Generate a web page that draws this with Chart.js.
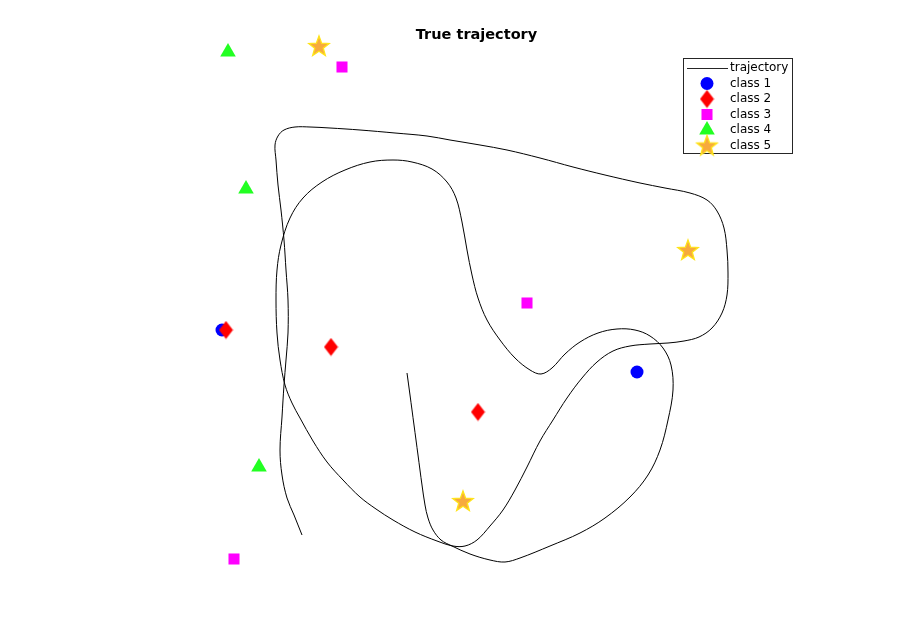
<!DOCTYPE html>
<html>
<head>
<meta charset="utf-8">
<script src="https://cdn.jsdelivr.net/npm/chart.js@4/dist/chart.umd.min.js"></script>
<style>
  body { margin: 0; background: #fff; }
  #wrap { width: 921px; height: 631px; }
</style>
</head>
<body>
<div id="wrap"><canvas id="trajChart" width="921" height="631"></canvas></div>
<script>
// trajectory (plot units, y grows downward)
const trajX = [407, 410, 414, 418, 422, 425, 428, 433, 441, 452,
  470, 490, 505, 520, 550, 580, 605, 630, 648, 660, 668, 673, 671, 663, 650, 635, 617, 598, 580, 565, 552, 541,
  530, 515, 500, 487, 478, 472, 467, 462, 456, 447, 432, 412, 393, 370, 345, 322, 303, 290, 281, 277, 276, 277,
  280, 285, 292, 300, 313, 327, 343, 360, 376, 393, 415, 437, 453,
  465, 477, 490, 503, 515, 527, 540, 553, 567, 582, 597, 613, 630, 650, 668, 684, 699, 712, 722, 727, 728, 727, 724,
  717, 707, 690, 665, 640, 605, 573, 540, 507, 480, 450, 427, 395, 360, 330, 310, 295, 284, 278, 275, 276, 278,
  281, 284, 286, 288, 288, 286, 284, 282, 280, 282, 287, 294, 302];
const trajY = [373, 395, 425, 455, 485, 505, 518, 530, 540, 546,
  554, 560, 562, 558, 546, 533, 518, 497, 475, 450, 420, 390, 365, 348, 336, 330, 329, 333, 342, 354, 368, 374,
  370, 358, 340, 320, 298, 275, 250, 222, 198, 182, 169, 162, 160, 162, 170, 182, 198, 218, 245, 270, 300, 333,
  360, 385, 403, 418, 441, 462, 480, 497, 509, 520, 532, 541, 546,
  546, 540, 526, 510, 490, 467, 441, 420, 398, 378, 362, 351, 346, 344, 343, 341, 337, 328, 313, 295, 273, 250, 228,
  211, 200, 193, 188, 183, 175, 167, 158, 150, 145, 140, 136, 133, 130, 128, 127, 127, 130, 136, 145, 160, 185,
  210, 240, 270, 300, 333, 360, 385, 417, 450, 475, 498, 515, 535];

const class1X = [222, 637];
const class1Y = [330, 372];
const class2X = [226, 331, 478];
const class2Y = [330, 347, 412];
const class3X = [342, 527, 234];
const class3Y = [67, 303, 559];
const class4X = [228, 246, 259];
const class4Y = [52, 189, 467];
const class5X = [319, 688, 463];
const class5Y = [46, 250, 501];

const classLabels = ['class 1', 'class 2', 'class 3', 'class 4', 'class 5'];

function toPoints(xs, ys) {
  return xs.map((x, i) => ({ x: x, y: ys[i] }));
}

// diamond marker (taller than wide, like matlab's)
function makeDiamond() {
  const c = document.createElement('canvas');
  c.width = 15; c.height = 19;
  const g = c.getContext('2d');
  g.fillStyle = '#ff0000';
  g.beginPath();
  g.moveTo(7.5, 0.5); g.lineTo(14.5, 9.5); g.lineTo(7.5, 18.5); g.lineTo(0.5, 9.5);
  g.closePath();
  g.fill();
  return c;
}

// five point star with yellow edge
function makeStar() {
  const c = document.createElement('canvas');
  c.width = 24; c.height = 24;
  const g = c.getContext('2d');
  const cx = 12, cy = 12.8, ro = 10.8, ri = 4.5;
  g.beginPath();
  for (let k = 0; k < 10; k++) {
    const r = k % 2 === 0 ? ro : ri;
    const a = -Math.PI / 2 + k * Math.PI / 5;
    const px = cx + r * Math.cos(a), py = cy + r * Math.sin(a);
    if (k === 0) g.moveTo(px, py); else g.lineTo(px, py);
  }
  g.closePath();
  g.fillStyle = '#f7aa3d';
  g.fill();
  g.lineWidth = 1.3;
  g.strokeStyle = '#ffe419';
  g.stroke();
  return c;
}

const diamondImg = makeDiamond();
const starImg = makeStar();

const markerStyles = [
  { pointStyle: 'circle', radius: 6.5, backgroundColor: '#0000ff' },
  { pointStyle: diamondImg, radius: 8, backgroundColor: '#ff0000' },
  { pointStyle: 'rect', radius: 7.8, backgroundColor: '#ff00ff' },
  { pointStyle: 'triangle', radius: 9, backgroundColor: '#22ff22' },
  { pointStyle: starImg, radius: 10, backgroundColor: '#f7aa3d' }
];

const titleAndLegend = {
  id: 'titleAndLegend',
  afterDraw(chart) {
    const ctx = chart.ctx;
    ctx.save();
    // title
    ctx.fillStyle = '#000';
    ctx.font = 'bold 14.5px "DejaVu Sans"';
    ctx.textAlign = 'center';
    ctx.textBaseline = 'middle';
    ctx.fillText('True trajectory', 476.5, 35);

    // legend box
    ctx.fillStyle = '#fff';
    ctx.fillRect(683.5, 58.5, 109, 95);
    ctx.strokeStyle = '#262626';
    ctx.lineWidth = 1;
    ctx.strokeRect(683.5, 58.5, 109, 95);

    const rowY = [68, 83.5, 99, 114.5, 130, 145.5];
    ctx.font = '12px "DejaVu Sans"';
    ctx.textAlign = 'left';
    ctx.fillStyle = '#000';
    ctx.beginPath();
    ctx.moveTo(687, rowY[0] + 0.5);
    ctx.lineTo(728, rowY[0] + 0.5);
    ctx.stroke();
    ctx.fillText('trajectory', 730, rowY[0]);
    classLabels.forEach((lab, i) => {
      const m = markerStyles[i];
      ctx.beginPath();
      ctx.fillStyle = m.backgroundColor;
      Chart.helpers.drawPoint(ctx, {
        pointStyle: m.pointStyle, radius: m.radius, rotation: 0, borderWidth: 0
      }, 707, rowY[i + 1]);
      ctx.beginPath();
      ctx.fillStyle = '#000';
      ctx.fillText(lab, 730, rowY[i + 1]);
    });
    ctx.restore();
  }
};

const classData = [
  toPoints(class1X, class1Y),
  toPoints(class2X, class2Y),
  toPoints(class3X, class3Y),
  toPoints(class4X, class4Y),
  toPoints(class5X, class5Y)
];

const datasets = [{
  label: 'trajectory',
  data: toPoints(trajX, trajY),
  showLine: true,
  borderColor: '#000',
  borderWidth: 1,
  pointRadius: 0,
  tension: 0.35,
  order: 10
}];
classData.forEach((pts, i) => {
  const m = markerStyles[i];
  datasets.push({
    label: classLabels[i],
    data: pts,
    showLine: false,
    pointStyle: m.pointStyle,
    pointRadius: m.radius,
    pointBackgroundColor: m.backgroundColor,
    pointBorderWidth: 0,
    order: 9 - i
  });
});

new Chart(document.getElementById('trajChart'), {
  type: 'scatter',
  data: { datasets: datasets },
  options: {
    responsive: false,
    animation: false,
    layout: { padding: 0, autoPadding: false },
    scales: {
      x: { type: 'linear', display: false, min: 0, max: 921 },
      y: { type: 'linear', display: false, min: 0, max: 631, reverse: true }
    },
    plugins: {
      legend: { display: false },
      tooltip: { enabled: false },
      title: { display: false }
    }
  },
  plugins: [titleAndLegend]
});
</script>
</body>
</html>
